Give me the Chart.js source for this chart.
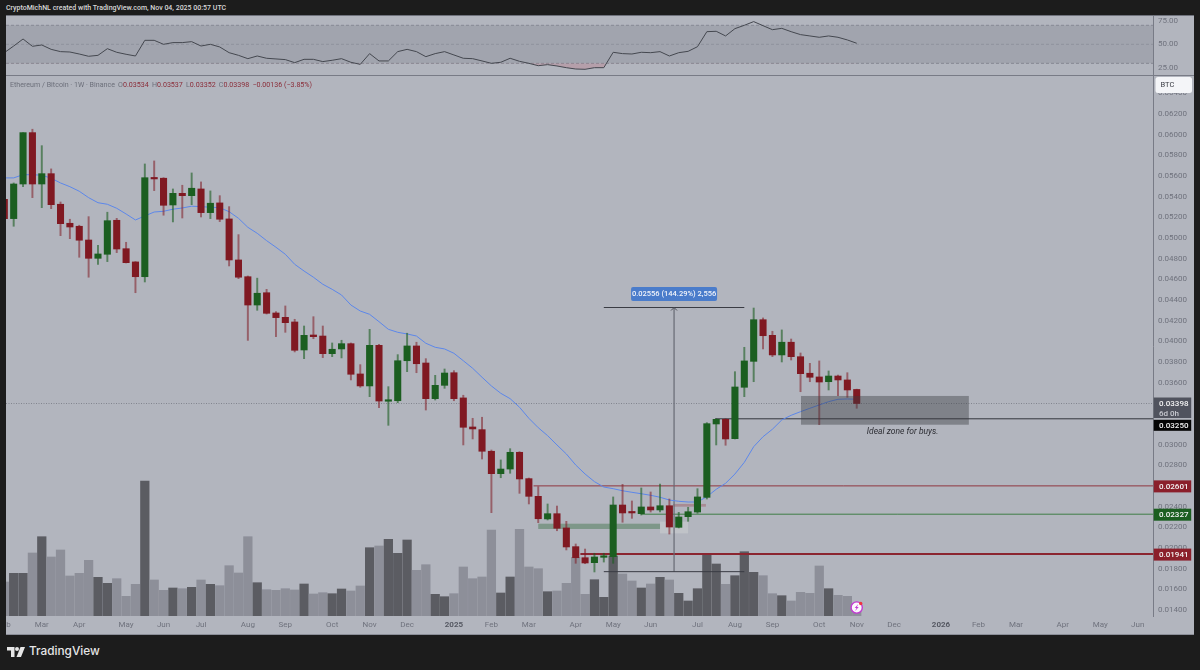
<!DOCTYPE html>
<html>
<head>
<meta charset="utf-8">
<title>ETH/BTC 1W</title>
<script src="https://cdn.jsdelivr.net/npm/chart.js@4"></script>
<style>
html,body{margin:0;padding:0;background:#1c1c1c;width:1200px;height:670px;overflow:hidden;font-family:Roboto,"Liberation Sans",sans-serif;}
#frame{position:absolute;left:6px;top:16px;width:1188px;height:618px;background:#b2b5be;}
#rsiChart{position:absolute;left:6px;top:16px;}
#mainChart{position:absolute;left:6px;top:76px;}
#sep{position:absolute;left:6px;top:75px;width:1188px;height:1px;background:#787b86;}
#topLine{position:absolute;left:6px;top:15px;width:1188px;height:1px;background:#6f727c;}
#bottomLine{position:absolute;left:6px;top:634px;width:1188px;height:1px;background:#8b8e98;}
#credit{position:absolute;left:6px;top:4px;font-size:7px;font-weight:500;color:#d8d8d8;white-space:nowrap;}
#legend{position:absolute;left:10px;top:80px;font-size:7.1px;color:#6c6f7a;white-space:pre;}
#legend b{font-weight:400;color:#8a2c38;}
#legend span{margin-left:3.2px;}
#brand{position:absolute;left:29px;top:644px;font-size:11.8px;font-weight:500;color:#e6e6e6;font-family:Inter,Roboto,sans-serif;}
#logo{position:absolute;left:7px;top:647px;}
</style>
</head>
<body>
<div id="frame"></div>
<div id="topLine"></div>
<canvas id="rsiChart" width="1188" height="59"></canvas>
<div id="sep"></div>
<canvas id="mainChart" width="1188" height="558"></canvas>
<div id="bottomLine"></div>
<div id="credit">CryptoMichNL created with TradingView.com, Nov 04, 2025 00:57 UTC</div>
<div id="legend">Ethereum / Bitcoin · 1W · Binance<span>O<b>0.03534</b></span><span>H<b>0.03537</b></span><span>L<b>0.03352</b></span><span>C<b>0.03398</b></span><span><b>−0.00136 (−3.85%)</b></span></div>
<svg id="logo" width="18" height="10" viewBox="0 0 36 20"><path fill="#e6e6e6" d="M0 0h15v20H8V7H0z"/><circle cx="20" cy="4" r="4" fill="#e6e6e6"/><path fill="#e6e6e6" d="M27 0h9l-8 20h-9z"/></svg>
<div id="brand">TradingView</div>

<script>
// weekly candles, one entry per week, oldest first
const opens = [0.05374,0.05187,0.05522,0.06019,0.05522,0.05622,0.05326,0.05142,0.05113,0.04980,
0.04803,0.04842,0.05171,0.04896,0.04768,0.04625,0.05583,0.05578,0.05319,0.05432,
0.05409,0.05474,0.05245,0.05339,0.05184,0.04787,0.04625,0.04351,0.04470,0.04274,
0.04232,0.04187,0.03916,0.04061,0.04051,0.03880,0.03926,0.03977,0.03684,0.03568,
0.03961,0.03420,0.03425,0.03812,0.03955,0.03790,0.03445,0.03574,0.03696,0.03452,
0.03171,0.03145,0.02936,0.02719,0.02764,0.02926,0.02671,0.02500,0.02281,0.02332,
0.02194,0.02013,0.01906,0.01858,0.01910,0.01916,0.02416,0.02348,0.02332,0.02397,
0.02368,0.02409,0.02200,0.02303,0.02348,0.02490,0.03200,0.03245,0.03058,0.03555,
0.03806,0.04209,0.04058,0.03868,0.03991,0.03851,0.03691,0.03655,0.03609,0.03664,
0.03626,0.03534];
const closes = [0.05187,0.05522,0.06019,0.05522,0.05622,0.05322,0.05138,0.05106,0.04978,0.04803,
0.04845,0.05167,0.04893,0.04761,0.04625,0.05583,0.05571,0.05316,0.05432,0.05409,
0.05481,0.05245,0.05336,0.05181,0.04787,0.04620,0.04351,0.04465,0.04271,0.04229,
0.04180,0.03913,0.04058,0.04045,0.03880,0.03923,0.03977,0.03681,0.03568,0.03961,
0.03422,0.03432,0.03812,0.03955,0.03783,0.03445,0.03574,0.03693,0.03445,0.03168,
0.03152,0.02936,0.02719,0.02764,0.02926,0.02668,0.02500,0.02283,0.02332,0.02191,
0.02010,0.01906,0.01855,0.01913,0.01920,0.02416,0.02339,0.02339,0.02397,0.02368,
0.02409,0.02203,0.02300,0.02351,0.02494,0.03203,0.03245,0.03055,0.03558,0.03810,
0.04209,0.04054,0.03868,0.03991,0.03851,0.03687,0.03652,0.03606,0.03664,0.03626,
0.03529,0.03398];
const highs = [0.05397,0.05532,0.06019,0.06052,0.05893,0.05668,0.05348,0.05181,0.05123,0.05206,
0.04929,0.05249,0.05190,0.04958,0.04771,0.05716,0.05745,0.05583,0.05474,0.05510,
0.05629,0.05542,0.05455,0.05409,0.05303,0.05032,0.04632,0.04611,0.04503,0.04287,
0.04342,0.04213,0.04148,0.04238,0.04148,0.03984,0.04010,0.03984,0.03774,0.04116,
0.03971,0.03561,0.03871,0.04078,0.03991,0.03832,0.03671,0.03732,0.03716,0.03478,
0.03255,0.03265,0.02948,0.02852,0.02961,0.02932,0.02677,0.02593,0.02426,0.02406,
0.02258,0.02039,0.01990,0.01949,0.01949,0.02494,0.02616,0.02455,0.02581,0.02542,
0.02619,0.02474,0.02345,0.02394,0.02574,0.03213,0.03251,0.03251,0.03706,0.03942,
0.04322,0.04226,0.04097,0.04110,0.04022,0.03887,0.03787,0.03810,0.03713,0.03674,
0.03696,0.03537];
const lows = [0.05116,0.05113,0.05496,0.05390,0.05293,0.05283,0.05022,0.04993,0.04813,0.04620,
0.04745,0.04771,0.04858,0.04758,0.04470,0.04574,0.05458,0.05220,0.05155,0.05193,
0.05322,0.05203,0.05187,0.05158,0.04729,0.04606,0.04009,0.04300,0.04264,0.04045,
0.04087,0.03897,0.03832,0.04025,0.03842,0.03851,0.03839,0.03626,0.03555,0.03464,
0.03358,0.03187,0.03406,0.03706,0.03696,0.03335,0.03432,0.03545,0.03425,0.02997,
0.03055,0.02861,0.02342,0.02680,0.02723,0.02529,0.02426,0.02245,0.02271,0.02167,
0.01981,0.01852,0.01848,0.01768,0.01864,0.01852,0.02249,0.02287,0.02319,0.02348,
0.02348,0.02135,0.02194,0.02258,0.02336,0.02474,0.02997,0.02994,0.03055,0.03464,
0.03609,0.03926,0.03851,0.03800,0.03819,0.03512,0.03609,0.03193,0.03529,0.03474,
0.03458,0.03352];

// blue moving average
const maValues = [0.05581,0.05581,0.05612,0.05612,0.05607,0.05578,0.05532,0.05496,0.05452,0.05390,
0.05341,0.05326,0.05287,0.05232,0.05174,0.05213,0.05251,0.05258,0.05278,0.05290,
0.05307,0.05303,0.05297,0.05293,0.05254,0.05190,0.05103,0.05045,0.04974,0.04910,
0.04842,0.04745,0.04680,0.04620,0.04552,0.04503,0.04448,0.04351,0.04293,0.04261,
0.04190,0.04116,0.04087,0.04071,0.04051,0.03981,0.03942,0.03926,0.03884,0.03812,
0.03739,0.03652,0.03568,0.03497,0.03445,0.03362,0.03255,0.03164,0.03087,0.02997,
0.02910,0.02803,0.02716,0.02642,0.02590,0.02574,0.02554,0.02539,0.02525,0.02510,
0.02491,0.02464,0.02452,0.02445,0.02445,0.02496,0.02568,0.02626,0.02716,0.02829,
0.02980,0.03077,0.03149,0.03239,0.03284,0.03319,0.03352,0.03384,0.03416,0.03439,
0.03442,0.03439];

const volumes = [34,42.7,42.7,63,79.3,59,66,40,42.7,55.7,
38.7,32.7,37.3,19.7,31.7,135,36,25.7,28,27.3,
28.7,36,31.7,30.3,50.3,43,79.3,33.3,26.3,25.7,
27.3,26,32,22,23.3,22.3,27,25,30,68.3,
70,76.7,62.7,76,45.7,51.3,21.7,19.3,22.3,49,
37.3,39,86,23,39,86.7,49,47.3,24.3,25,
32.7,58.7,21.7,36.3,18.7,60,42,35,28,32,
38.7,36,22.7,15,27.3,62,52,31.7,40.3,64.3,
43.7,40.3,22.3,20.3,15,23.7,22.7,50,27.3,20.7,
19.7,12];
const volumeMax = 540;

// RSI pane
const rsiValues = [41.2,48.2,55.6,47.9,49.3,44.7,42.3,41.9,39.8,37.4,
38.4,45.4,41.6,39.5,37.7,54.2,54.2,50,51.8,51.8,
52.8,48.2,50,47.2,41.2,38.4,34.9,37.7,35.3,34.6,
33.9,30.7,34.2,34.2,31.8,33.2,34.9,31.1,28.9,40.2,
32.5,32.5,42.3,44.7,42.3,37,40.2,42.3,38.8,35.3,
34.9,32.5,30,31.1,35.3,32.1,30,27.5,28.6,27.2,
25.4,24,23.7,25.4,25.4,41.6,40.2,39.8,41.6,41.2,
42.3,37.7,41.2,42.6,47.5,63.3,63.7,58.8,66.5,70,
73.9,69.6,65.4,66.8,63.3,60.2,58.8,57.4,58.8,57.4,
54.6,51.1];
const rsiBands = [70, 50, 30];
const rsiTicks = [75, 50, 25];

// time axis
const monthLabels = ['Feb','Mar','Apr','May','Jun','Jul','Aug','Sep','Oct','Nov','Dec','2025','Feb','Mar','Apr','May','Jun','Jul','Aug','Sep','Oct','Nov','Dec','2026','Feb','Mar','Apr','May','Jun'];
const monthWeeks = [0,4,8,13,17,21,26,30,35,39,43,48,52,56,61,65,69,74,78,82,87,91,95,100,104,108,113,117,121];
const weekMin = 0.18, weekMax = 122.63;

// price levels drawn on the chart
const levelPrices = [0.02601, 0.02327, 0.01941, 0.0325];
const levelStarts = [56.5, 68, 61.5, 75.9];
const levelColors = ['#8f3540', '#3f7d46', '#8b2530', '#33353c'];
const levelWidths = [1, 1, 2, 1];
const lastPrice = 0.03398;

// long position style measure
const measureLow = 0.01771, measureHigh = 0.04327;
const measureStart = 64, measureEnd = 79, measureWeek = 71.5;

// boxes: [week from, week to, price top, price bottom]
const backBoxes = [
  { range: [57, 70, 0.02235, 0.02184], color: 'rgba(84,126,92,.55)' },
  { range: [70, 73, 0.02255, 0.02142], color: 'rgba(225,230,225,.3)' },
  { range: [71.4, 74.9, 0.02426, 0.02400], color: 'rgba(150,60,70,.35)' }
];
const zoneBox = [85.05, 102.97, 0.03471, 0.03193];

// labels sitting on the price axis
const badgePrices = [0.02601, 0.02327, 0.01941];
const badgeColors = ['#8b1f2b', '#1b5e20', '#8b1f2b'];

const weeks = opens.map((_, i) => i);
const isUp = weeks.map(i => closes[i] >= opens[i]);
const axisFont = 'Roboto, "Liberation Sans", sans-serif';

function flatLine(y, from, to) {
  return [{ x: from, y: y }, { x: to, y: y }];
}

function isYearTick(c) {
  if (!c.tick) return false;
  const label = monthLabels[monthWeeks.indexOf(c.tick.value)];
  return !!label && label.length === 4;
}

// the panes have to line up exactly, so drop the room chart.js keeps for half labels
function noScalePadding(s) {
  s.paddingLeft = s.paddingRight = s.paddingTop = s.paddingBottom = 0;
}

function xAxis(showLabels) {
  return {
    type: 'linear', min: weekMin, max: weekMax, offset: false,
    grid: { display: false, drawTicks: false }, border: { display: false },
    afterBuildTicks: s => { s.ticks = monthWeeks.map(w => ({ value: w })); },
    afterFit: s => { s.height = showLabels ? 18 : 0; noScalePadding(s); },
    ticks: {
      display: showLabels, autoSkip: false, maxRotation: 0, padding: 4,
      color: c => isYearTick(c) ? '#555862' : '#6f727d',
      font: c => ({ family: axisFont, size: 8, weight: isYearTick(c) ? 'bold' : 'normal' }),
      callback: v => monthLabels[monthWeeks.indexOf(v)]
    }
  };
}

// RSI
const rsiChart = new Chart(document.getElementById('rsiChart').getContext('2d'), {
  type: 'line',
  data: {
    datasets: [
      {
        data: weeks.map(i => ({ x: i, y: rsiValues[i] })),
        borderColor: '#44474f', borderWidth: 1, pointRadius: 0, tension: 0,
        fill: { target: { value: 30 }, above: 'transparent', below: 'rgba(190,110,125,.3)' }
      },
      {
        data: flatLine(rsiBands[0], weekMin, weekMax),
        borderColor: '#868994', borderWidth: 1, borderDash: [3, 2], pointRadius: 0,
        fill: { target: { value: rsiBands[2] } }, backgroundColor: 'rgba(120,123,134,.28)'
      },
      {
        data: flatLine(rsiBands[1], weekMin, weekMax),
        borderColor: '#989ba5', borderWidth: 1, borderDash: [3, 2], pointRadius: 0, fill: false
      },
      {
        data: flatLine(rsiBands[2], weekMin, weekMax),
        borderColor: '#868994', borderWidth: 1, borderDash: [3, 2], pointRadius: 0, fill: false
      }
    ]
  },
  options: {
    responsive: false, animation: false, events: [],
    layout: { autoPadding: false, padding: 0 },
    plugins: { legend: { display: false }, tooltip: { enabled: false } },
    scales: {
      x: xAxis(false),
      y: {
        position: 'right', min: 17.7, max: 79.8,
        grid: { display: false, drawTicks: false },
        border: { color: '#787b86' },
        afterFit: s => { s.width = 41; noScalePadding(s); },
        afterBuildTicks: s => { s.ticks = rsiTicks.map(v => ({ value: v })); },
        ticks: { padding: 5, color: '#6f727d', font: { family: axisFont, size: 8 }, callback: v => v.toFixed(2) }
      }
    }
  }
});

// drawn on top of / behind the datasets, everything through the scales
const overlayPlugin = {
  id: 'overlay',
  beforeDatasetsDraw(chart) {
    const { ctx, scales: { x, y } } = chart;
    backBoxes.forEach(b => {
      ctx.fillStyle = b.color;
      ctx.fillRect(x.getPixelForValue(b.range[0]), y.getPixelForValue(b.range[2]),
        x.getPixelForValue(b.range[1]) - x.getPixelForValue(b.range[0]),
        y.getPixelForValue(b.range[3]) - y.getPixelForValue(b.range[2]));
    });
  },
  afterDatasetsDraw(chart) {
    const { ctx, scales: { x, y } } = chart;
    // ideal zone
    ctx.fillStyle = 'rgba(58,59,64,.42)';
    ctx.fillRect(x.getPixelForValue(zoneBox[0]), y.getPixelForValue(zoneBox[2]),
      x.getPixelForValue(zoneBox[1]) - x.getPixelForValue(zoneBox[0]),
      y.getPixelForValue(zoneBox[3]) - y.getPixelForValue(zoneBox[2]));
    // arrow head
    const ax = x.getPixelForValue(measureWeek), ay = y.getPixelForValue(measureHigh);
    ctx.strokeStyle = '#4d4f58'; ctx.lineWidth = 1;
    ctx.beginPath(); ctx.moveTo(ax - 3, ay + 3); ctx.lineTo(ax, ay); ctx.lineTo(ax + 3, ay + 3); ctx.stroke();
  },
  afterDraw(chart) {
    const { ctx, chartArea, scales: { x, y } } = chart;
    ctx.textBaseline = 'middle';
    // note under the zone
    ctx.fillStyle = '#2c2d33'; ctx.textAlign = 'center';
    ctx.font = 'italic 8.5px ' + axisFont;
    ctx.fillText('Ideal zone for buys.', x.getPixelForValue(95.9), y.getPixelForValue(0.03125));
    // measure label
    const mx = x.getPixelForValue(measureWeek), my = y.getPixelForValue(0.04458);
    ctx.fillStyle = '#4a7ccb';
    ctx.beginPath(); ctx.roundRect(mx - 43, my - 7, 86, 14, 2); ctx.fill();
    ctx.fillStyle = '#f2f4fa'; ctx.font = '500 7.5px ' + axisFont;
    ctx.fillText('0.02556 (144.29%) 2,556', mx, my + .5);
    // price axis badges
    const bx = chartArea.right + .7, bw = 37.5;
    ctx.textAlign = 'left'; ctx.font = '500 8px ' + axisFont;
    badgePrices.forEach((p, i) => {
      const by = y.getPixelForValue(p) + .5;
      ctx.fillStyle = badgeColors[i];
      ctx.fillRect(bx, by - 6, bw, 12);
      ctx.fillStyle = '#f4f4f4';
      ctx.fillText(p.toFixed(5), bx + 5.3, by + .3);
    });
    const cy = y.getPixelForValue(levelPrices[3]) + 6.5;
    ctx.fillStyle = '#050505'; ctx.fillRect(bx, cy - 5.5, bw, 11);
    ctx.fillStyle = '#f4f4f4'; ctx.fillText(levelPrices[3].toFixed(5), bx + 5.3, cy + .3);
    const ly = y.getPixelForValue(lastPrice);
    ctx.fillStyle = '#50535e'; ctx.fillRect(bx, ly - 6, bw, 20.5);
    ctx.fillStyle = '#f4f4f4'; ctx.fillText(lastPrice.toFixed(5), bx + 5.3, ly + .6);
    ctx.fillStyle = '#c9cbd2'; ctx.fillText('6d 0h', bx + 5.3, ly + 10);
    // scale mode button
    ctx.fillStyle = '#f4f5f8';
    ctx.beginPath(); ctx.roundRect(chartArea.right + 2.5, 1, 36.5, 16, 2.5); ctx.fill();
    ctx.fillStyle = '#3a3c44'; ctx.font = '7.5px ' + axisFont;
    ctx.fillText('BTC', chartArea.right + 7.5, 9.5);
    // news icon over the last volume bar
    const ix = x.getPixelForValue(weeks[weeks.length - 1]), iy = chartArea.bottom - 8.5;
    ctx.fillStyle = '#fbf7fc'; ctx.strokeStyle = '#c23bd3'; ctx.lineWidth = 1.4;
    ctx.beginPath(); ctx.arc(ix, iy, 5.6, 0, Math.PI * 2); ctx.fill(); ctx.stroke();
    ctx.fillStyle = '#c23bd3';
    ctx.beginPath(); ctx.moveTo(ix + 1.6, iy - 3.4); ctx.lineTo(ix - 2, iy + .6); ctx.lineTo(ix - .2, iy + .6);
    ctx.lineTo(ix - 1.6, iy + 3.4); ctx.lineTo(ix + 2, iy - .6); ctx.lineTo(ix + .2, iy - .6); ctx.closePath(); ctx.fill();
    ctx.fillStyle = '#ef3340';
    ctx.beginPath(); ctx.arc(ix + 4, iy - 4, 1.7, 0, Math.PI * 2); ctx.fill();
  }
};

// main pane: volume, levels, candles, moving average
const mainChart = new Chart(document.getElementById('mainChart').getContext('2d'), {
  data: {
    datasets: [
      {
        type: 'bar', yAxisID: 'yVol', order: 9, grouped: false, barThickness: 8.6,
        data: weeks.map(i => ({ x: i, y: volumes[i] })),
        backgroundColor: weeks.map(i => isUp[i] ? '#5b5c62' : '#8d8f99')
      },
      {
        type: 'line', order: 8, borderColor: 'rgba(96,100,110,.6)', borderWidth: 1, borderDash: [1, 1.5], pointRadius: 0,
        data: flatLine(lastPrice, weekMin, weekMax)
      },
      ...levelPrices.map((p, i) => ({
        type: 'line', order: 7, borderColor: levelColors[i], borderWidth: levelWidths[i], pointRadius: 0,
        data: flatLine(p, levelStarts[i], weekMax)
      })),
      {
        type: 'line', order: 6, borderColor: '#3a3c44', borderWidth: 1, pointRadius: 0,
        data: flatLine(measureHigh, measureStart, measureEnd)
      },
      {
        type: 'line', order: 6, borderColor: '#3a3c44', borderWidth: 1, pointRadius: 0,
        data: flatLine(measureLow, measureStart, measureEnd)
      },
      {
        type: 'line', order: 6, borderColor: '#666974', borderWidth: 1.2, pointRadius: 0,
        data: [{ x: measureWeek, y: measureLow }, { x: measureWeek, y: measureHigh }]
      },
      {
        type: 'line', order: 5, borderColor: '#5c87ea', borderWidth: 1, pointRadius: 0, tension: 0,
        data: weeks.map(i => ({ x: i, y: maValues[i] }))
      },
      {
        type: 'bar', order: 3, grouped: false, barThickness: 1.3,
        data: weeks.map(i => ({ x: i, y: [lows[i], highs[i]] })),
        backgroundColor: weeks.map(i => isUp[i] ? 'rgba(27,94,32,.6)' : 'rgba(128,25,34,.55)')
      },
      {
        type: 'bar', order: 2, grouped: false, barThickness: 6.4, minBarLength: 1.5,
        data: weeks.map(i => ({ x: i, y: [opens[i], closes[i]] })),
        backgroundColor: weeks.map(i => isUp[i] ? '#1b5e20' : '#801922')
      }
    ]
  },
  options: {
    responsive: false, animation: false, events: [],
    layout: { autoPadding: false, padding: 0 },
    plugins: { legend: { display: false }, tooltip: { enabled: false } },
    scales: {
      x: xAxis(true),
      y: {
        position: 'right', min: 0.01342, max: 0.06567,
        grid: { display: false, drawTicks: false },
        border: { color: '#787b86' },
        afterFit: s => { s.width = 41; noScalePadding(s); },
        ticks: {
          stepSize: 0.002, includeBounds: false, padding: 5, autoSkip: false,
          color: '#6f727d', font: { family: axisFont, size: 8 },
          callback: v => v.toFixed(5)
        }
      },
      yVol: { display: false, min: 0, max: volumeMax }
    }
  },
  plugins: [overlayPlugin]
});
</script>
</body>
</html>
